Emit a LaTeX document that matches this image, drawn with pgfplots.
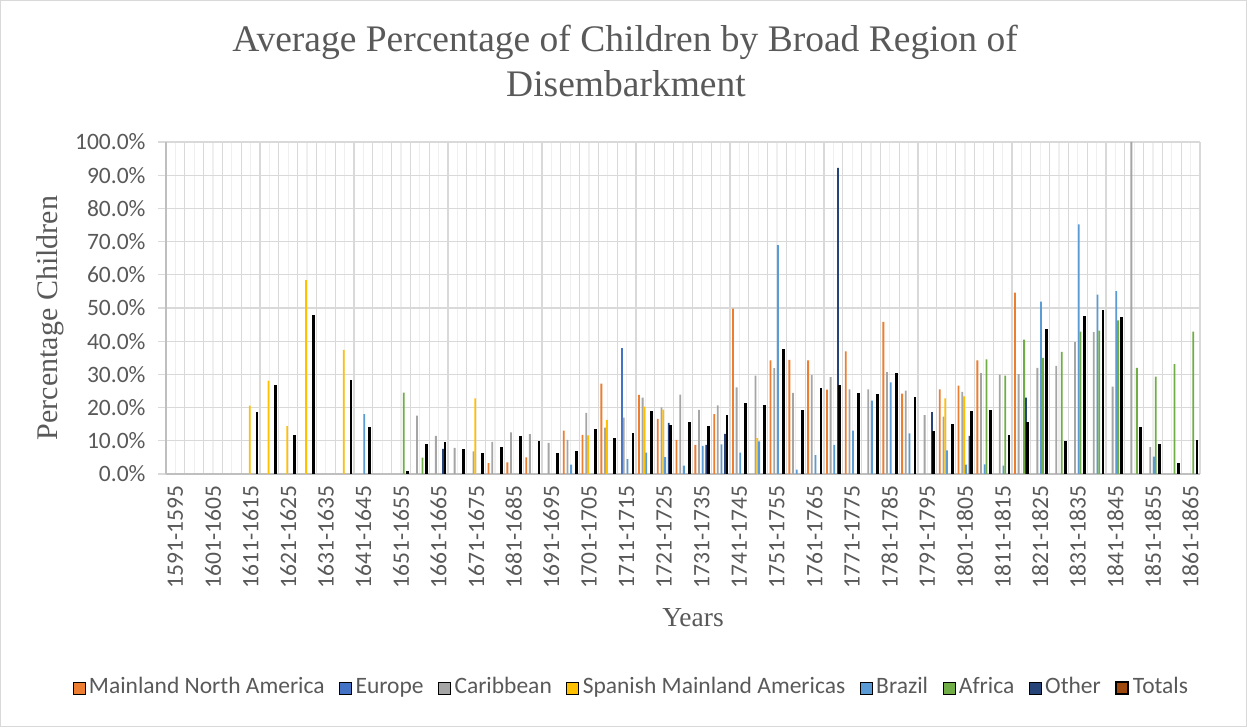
\documentclass[border=0pt]{standalone}
\usepackage{pgfplots}
\pgfplotsset{compat=1.18}
\usepackage{fontspec}
\setmainfont{Liberation Serif}
\newfontfamily\calfont{Carlito}
\definecolor{cMNA}{HTML}{ED7D31}
\definecolor{cEur}{HTML}{4472C4}
\definecolor{cCar}{HTML}{A5A5A5}
\definecolor{cSpa}{HTML}{FFC000}
\definecolor{cBra}{HTML}{5B9BD5}
\definecolor{cAfr}{HTML}{70AD47}
\definecolor{cOth}{HTML}{264478}
\definecolor{cTot}{HTML}{9E480E}
\definecolor{txt}{HTML}{595959}
\definecolor{gridd}{HTML}{D9D9D9}
\definecolor{gridl}{HTML}{EFEFEF}
\definecolor{axl}{HTML}{BFBFBF}
\begin{document}
\begin{tikzpicture}
\path[use as bounding box] (0,0) rectangle (1247pt,727pt);
\draw[gridd, line width=1pt] (0.5pt,0.5pt) rectangle (1246.5pt,726.5pt);
\node[font=\fontsize{37.5}{44}\selectfont, text=txt] at (625pt,685pt) {Average Percentage of Children by Broad Region of};
\node[font=\fontsize{37.5}{44}\selectfont, text=txt] at (626pt,643pt) {Disembarkment};
\node[rotate=90, font=\fontsize{30}{36}\selectfont, text=txt] at (50pt,409pt) {Percentage Children};
\node[font=\fontsize{27.5}{32}\selectfont, text=txt] at (693pt,109pt) {Years};
\begin{axis}[
  at={(166pt,253pt)}, anchor=south west,
  scale only axis, width=1034pt, height=332pt,
  ybar=0pt, bar width=1.83pt,
  xmin=-0.5, xmax=54.5, ymin=0, ymax=100,
  enlargelimits=false,
  axis lines*=left,
  axis line style={draw=axl, line width=1.3pt},
  ytick={0,10,...,100},
  yticklabel={\pgfmathprintnumber[fixed,fixed zerofill,precision=1]{\tick}\%},
  /pgf/number format/assume math mode=true,
  yticklabel style={font=\calfont\fontsize{23.5}{28}\selectfont, text=txt, xshift=-9pt},
  ytick style={draw=gridd, line width=1.3pt},
  major tick length=8pt, tick align=outside,
  ymajorgrids, major grid style={draw=gridd, line width=1.3pt},
  xtick={-0.5,0.5,...,54.6},
  xticklabels={},
  xmajorgrids,
  xtick style={draw=none},
  minor x tick num=1,
  xminorgrids, minor grid style={draw=gridl, line width=1.3pt},
  every minor tick/.append style={draw=none},
  extra x ticks={0,2,...,54},
  extra x tick labels={1591-1595,1601-1605,1611-1615,1621-1625,1631-1635,1641-1645,1651-1655,1661-1665,1671-1675,1681-1685,1691-1695,1701-1705,1711-1715,1721-1725,1731-1735,1741-1745,1751-1755,1761-1765,1771-1775,1781-1785,1791-1795,1801-1805,1811-1815,1821-1825,1831-1835,1841-1845,1851-1855,1861-1865},
  extra x tick style={grid=none, tick style={draw=none}},
  xticklabel style={rotate=90, anchor=east, font=\calfont\fontsize{23.5}{28}\selectfont, text=txt},
  legend image code/.code={\draw[#1] (0pt,-6pt) rectangle (12pt,6pt);},
  legend columns=8,
  legend style={at={(0.451,-0.645)}, anchor=center, draw=none, fill=none,
    font=\calfont\fontsize{23.5}{28}\selectfont, text=txt,
    nodes={inner xsep=4pt, text height=16pt, text depth=5pt},
    /tikz/every even column/.append style={column sep=10.5pt}},
  legend cell align=left,
]
\addplot[fill=cMNA, draw=none] coordinates {(17,3.3)(18,3.5)(19,5.0)(21,13.1)(22,11.8)(23,27.2)(25,23.8)(26,16.6)(27,10.3)(28,8.8)(29,18.0)(30,49.8)(32,34.2)(33,34.4)(34,34.2)(35,25.4)(36,36.9)(38,45.8)(39,24.2)(41,25.5)(42,26.6)(43,34.2)(45,54.6)};
\addplot[fill=cEur, draw=none] coordinates {(24,38.1)};
\addplot[fill=cCar, draw=none] coordinates {(13,17.6)(14,11.5)(15,7.9)(16,6.8)(17,9.7)(18,12.5)(19,12.0)(20,9.4)(21,10.3)(22,18.4)(23,14.0)(24,17.0)(25,23.0)(26,20.1)(27,23.9)(28,19.3)(29,20.7)(30,26.1)(31,29.6)(32,31.9)(33,24.4)(34,29.8)(35,29.2)(36,25.5)(37,25.5)(38,30.7)(39,25.1)(40,17.7)(41,17.3)(42,24.7)(43,30.4)(44,29.9)(45,30.1)(46,32.0)(47,32.6)(48,39.7)(49,42.7)(50,26.3)(51,100)(52,8.1)};
\addplot[fill=cSpa, draw=none] coordinates {(4,20.6)(5,28.1)(6,14.4)(7,58.4)(9,37.4)(16,22.8)(22,11.6)(23,16.3)(25,20.3)(26,19.4)(31,10.8)(41,22.8)(42,23.4)};
\addplot[fill=cBra, draw=none] coordinates {(10,18.0)(21,2.8)(24,4.5)(25,6.4)(26,5.1)(27,2.5)(28,8.5)(29,8.9)(30,6.4)(31,9.8)(32,68.9)(33,1.3)(34,5.7)(35,8.8)(36,13.1)(37,22.1)(38,27.6)(39,12.2)(41,7.1)(42,2.8)(43,2.9)(44,2.5)(46,51.9)(48,75.2)(49,54.0)(50,55.1)(52,5.2)};
\addplot[fill=cAfr, draw=none] coordinates {(12,24.5)(13,4.9)(43,34.5)(44,29.6)(45,40.5)(46,35.0)(47,36.8)(48,42.9)(49,43.2)(50,46.3)(51,32.0)(52,29.3)(53,33.1)(54,42.9)};
\addplot[fill=cOth, draw=none] coordinates {(14,7.6)(26,15.4)(28,8.8)(29,12.1)(35,92.2)(40,18.6)(42,11.5)(45,23.0)};
\addplot[fill=black, draw=black, line width=1pt,
  legend image code/.code={\draw[fill=cTot, draw=black, line width=1.5pt] (0pt,-6pt) rectangle (12pt,6pt);}] coordinates {(4,18.5)(5,26.6)(6,11.5)(7,47.8)(9,28.3)(10,13.9)(12,0.9)(13,8.8)(14,9.6)(15,7.5)(16,6.3)(17,8.0)(18,11.3)(19,9.7)(20,6.1)(21,6.9)(22,13.5)(23,10.7)(24,12.3)(25,18.8)(26,14.6)(27,15.4)(28,14.3)(29,17.6)(30,21.2)(31,20.5)(32,37.6)(33,19.1)(34,25.9)(35,26.6)(36,24.2)(37,23.9)(38,30.3)(39,22.9)(40,12.7)(41,14.8)(42,18.8)(43,19.2)(44,11.7)(45,15.6)(46,43.5)(47,9.8)(48,47.3)(49,49.1)(50,47.2)(51,13.9)(52,8.8)(53,3.3)(54,10.0)};
\legend{Mainland North America,Europe,Caribbean,Spanish Mainland Americas,Brazil,Africa,Other,Totals}
\end{axis}
\end{tikzpicture}
\end{document}
